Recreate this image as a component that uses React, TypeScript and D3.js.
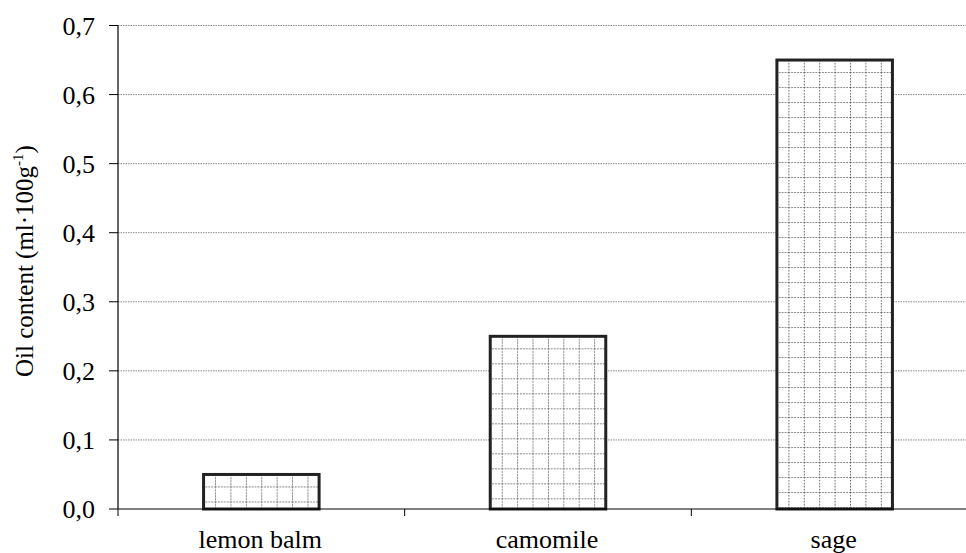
import React from "react";
import * as d3 from "d3";

const categories = ["lemon balm", "camomile", "sage"];
const oilContent = [0.05, 0.25, 0.65];
const yTicks = [0, 0.1, 0.2, 0.3, 0.4, 0.5, 0.6, 0.7];
const yLabelMain = "Oil content (ml·100g";
const yLabelSup = "-1";
const yLabelEnd = ")";

const W = 966;
const H = 553;
const FONT = "Liberation Serif";

export default function App() {
  const x0 = 118;
  const x1 = 978;
  const y = d3.scaleLinear().domain([0, 0.7]).range([509, 25.5]);
  const x = d3.scaleBand<string>().domain(categories).range([x0, x1]).padding(0);
  const barW = x.bandwidth() * 0.403;
  const fmt = (v: number) => v.toFixed(1).replace(".", ",");

  return (
    <svg
      width={W}
      height={H}
      style={{ position: "absolute", left: 0, top: 0, background: "#fff" }}
    >
      <defs>
        {categories.map((c, i) => {
          const bx = (x(c) as number) + (x.bandwidth() - barW) / 2;
          const by = y(oilContent[i]);
          return (
            <pattern
              key={c}
              id={`pat${i}`}
              patternUnits="userSpaceOnUse"
              x={bx + 11.5}
              y={by + 12}
              width={15.4}
              height={15}
            >
              <rect x={0} y={0} width={15.4} height={15} fill="#fff" />
              <line x1={0} x2={15.4} y1={0} y2={0} stroke="#444" strokeWidth={1.6} strokeDasharray="1.6,1.35" />
              <line x1={0} x2={0} y1={0} y2={15} stroke="#444" strokeWidth={1.6} strokeDasharray="1.6,1.35" />
            </pattern>
          );
        })}
      </defs>

      {/* gridlines */}
      {yTicks.filter((t) => t > 0).map((t) => (
        <line
          key={`g${t}`}
          x1={x0}
          x2={W}
          y1={y(t)}
          y2={y(t)}
          stroke="#888"
          strokeWidth={1}
          strokeDasharray="1.5,1"
        />
      ))}

      {/* y axis */}
      <line x1={x0} x2={x0} y1={y(0.7)} y2={y(0)} stroke="#000" strokeWidth={1.2} />
      {yTicks.map((t) => (
        <g key={`t${t}`}>
          <line x1={x0 - 9} x2={x0} y1={y(t)} y2={y(t)} stroke="#000" strokeWidth={1} />
          <text x={95} y={y(t)} dy="0.35em" textAnchor="end" fontSize={26} fill="#000" fontFamily={FONT}>
            {fmt(t)}
          </text>
        </g>
      ))}

      {/* bars */}
      {categories.map((c, i) => {
        const bx = (x(c) as number) + (x.bandwidth() - barW) / 2;
        const by = y(oilContent[i]);
        return (
          <g key={`b${c}`}>
            <rect x={bx} y={by} width={barW} height={y(0) - by} fill={`url(#pat${i})`} />
            <rect x={bx} y={by} width={barW} height={y(0) - by} fill="none" stroke="#222" strokeWidth={3} />
          </g>
        );
      })}

      {/* x axis */}
      <line x1={x0} x2={W} y1={y(0)} y2={y(0)} stroke="#000" strokeWidth={1.2} />
      {categories.map((c) => (
        <line key={`xt${c}`} x1={x(c) as number} x2={x(c) as number} y1={y(0)} y2={y(0) + 7} stroke="#000" strokeWidth={1} />
      ))}
      {categories.map((c) => (
        <text
          key={`xl${c}`}
          x={(x(c) as number) + x.bandwidth() / 2 - 1}
          y={548}
          textAnchor="middle"
          fontSize={26}
          fill="#000"
          fontFamily={FONT}
        >
          {c}
        </text>
      ))}

      {/* y label */}
      <text
        transform="translate(33,261) rotate(-90)"
        textAnchor="middle"
        fontSize={25}
        fill="#000"
        fontFamily={FONT}
      >
        {yLabelMain}
        <tspan fontSize={15} dy={-10}>{yLabelSup}</tspan>
        <tspan dy={10}>{yLabelEnd}</tspan>
      </text>
    </svg>
  );
}
